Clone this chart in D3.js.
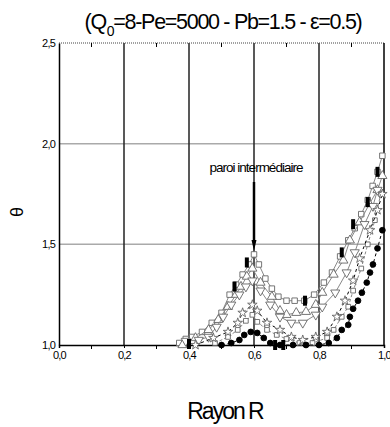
<!DOCTYPE html>
<html>
<head>
<meta charset="utf-8">
<script src="https://cdn.jsdelivr.net/npm/d3@7"></script>
<style>
  body { margin: 0; background: #fff; }
  svg { display: block; font-family: Arial, "Liberation Sans", sans-serif; }
</style>
</head>
<body>
<div id="chart"></div>
<script>
// data (R, theta)
const seriesSquare = [[0.37,1.01],[0.39,1.03],[0.41,1.04],[0.44,1.065],[0.47,1.11],[0.50,1.16],[0.525,1.25],[0.545,1.30],[0.565,1.35],[0.585,1.40],[0.60,1.45],[0.615,1.40],[0.635,1.33],[0.655,1.28],[0.675,1.24],[0.70,1.22],[0.725,1.22],[0.755,1.22],[0.785,1.25],[0.815,1.31],[0.84,1.36],[0.865,1.44],[0.89,1.52],[0.91,1.58],[0.93,1.65],[0.95,1.72],[0.965,1.79],[0.98,1.86],[0.995,1.94]];
const seriesUp = [[0.38,1.0],[0.42,1.035],[0.46,1.075],[0.49,1.125],[0.52,1.19],[0.545,1.25],[0.56,1.29],[0.578,1.34],[0.595,1.38],[0.62,1.31],[0.655,1.24],[0.68,1.17],[0.70,1.15],[0.73,1.16],[0.76,1.165],[0.79,1.20],[0.81,1.26],[0.845,1.35],[0.875,1.42],[0.895,1.52],[0.925,1.61],[0.955,1.70],[0.98,1.77],[0.995,1.84]];
const seriesDown = [[0.39,1.02],[0.43,1.025],[0.46,1.04],[0.485,1.09],[0.505,1.14],[0.53,1.20],[0.555,1.25],[0.575,1.29],[0.595,1.32],[0.62,1.27],[0.65,1.20],[0.68,1.14],[0.715,1.11],[0.75,1.11],[0.79,1.15],[0.81,1.19],[0.85,1.26],[0.885,1.36],[0.91,1.46],[0.94,1.60],[0.966,1.69],[0.98,1.77]];
const seriesStar = [[0.42,1.0],[0.475,1.035],[0.52,1.065],[0.55,1.11],[0.565,1.16],[0.595,1.20],[0.61,1.17],[0.64,1.11],[0.68,1.075],[0.715,1.04],[0.75,1.025],[0.79,1.04],[0.825,1.065],[0.855,1.14],[0.88,1.22],[0.905,1.32],[0.925,1.43],[0.957,1.57],[0.98,1.67],[0.995,1.75]];
const seriesSmallSq = [[0.48,1.01],[0.52,1.04],[0.55,1.075],[0.575,1.12],[0.595,1.15],[0.61,1.115],[0.64,1.075],[0.67,1.05],[0.70,1.03],[0.74,1.01],[0.78,1.01],[0.825,1.035],[0.845,1.075],[0.87,1.14],[0.89,1.19],[0.905,1.27],[0.93,1.38],[0.95,1.50],[0.972,1.62],[0.99,1.75]];
const seriesCircle = [[0.50,1.0],[0.53,1.01],[0.555,1.025],[0.57,1.05],[0.59,1.065],[0.61,1.06],[0.63,1.035],[0.65,1.01],[0.68,1.0],[0.72,1.0],[0.76,1.0],[0.80,1.0],[0.83,1.01],[0.855,1.035],[0.87,1.075],[0.89,1.10],[0.895,1.14],[0.905,1.18],[0.92,1.22],[0.932,1.26],[0.947,1.31],[0.957,1.36],[0.966,1.40],[0.98,1.48],[0.995,1.57]];
const blackMarks = [[0.40,1.005],[0.54,1.29],[0.578,1.41],[0.757,1.22],[0.665,1.0],[0.69,1.0],[0.87,1.46],[0.905,1.60],[0.95,1.71],[0.98,1.86]];

const xTicks = [0, 0.2, 0.4, 0.6, 0.8, 1.0];
const xMinor = [0.1, 0.3, 0.5, 0.7, 0.9];
const yTicks = [1.0, 1.5, 2.0, 2.5];

const width = 390, height = 427;
const fmt = d => d3.format('.1f')(d).replace('.', ',');

const svg = d3.select('#chart').append('svg')
  .attr('width', width)
  .attr('height', height);

const x = d3.scaleLinear().domain([0, 1]).range([59, 384]);
const y = d3.scaleLinear().domain([1, 2.5]).range([345, 43]);

// grid
svg.selectAll('.hgrid').data([1.5, 2.0]).enter().append('line')
  .attr('x1', x(0)).attr('x2', x(1))
  .attr('y1', d => y(d)).attr('y2', d => y(d))
  .attr('stroke', '#aaa').attr('stroke-width', 1.5);

svg.selectAll('.vgrid').data([0.2, 0.4, 0.6, 0.8]).enter().append('line')
  .attr('x1', d => x(d)).attr('x2', d => x(d))
  .attr('y1', y(2.5)).attr('y2', y(1))
  .attr('stroke', '#222').attr('stroke-width', 1.5);

// frame
svg.append('line').attr('x1', x(0)).attr('x2', x(1)).attr('y1', y(2.5)).attr('y2', y(2.5))
  .attr('stroke', '#444').attr('stroke-width', 1.2).attr('stroke-dasharray', '1,1');
svg.append('line').attr('x1', x(1)).attr('x2', x(1)).attr('y1', y(2.5)).attr('y2', y(1))
  .attr('stroke', '#000').attr('stroke-width', 1.5);

// axes
const xAxis = svg.append('g')
  .attr('transform', `translate(0,${y(1)})`)
  .call(d3.axisBottom(x).tickValues(xTicks).tickFormat(fmt).tickSize(3).tickPadding(3));
xAxis.select('.domain').attr('stroke', '#000').attr('stroke-width', 1.5);
xAxis.selectAll('text').attr('font-size', 11).attr('letter-spacing', -0.8).attr('fill', '#000');

svg.selectAll('.xminor').data(xMinor).enter().append('line')
  .attr('x1', d => x(d)).attr('x2', d => x(d))
  .attr('y1', y(1)).attr('y2', y(1) + 4)
  .attr('stroke', '#000');
svg.selectAll('.xminorTop').data(xMinor).enter().append('line')
  .attr('x1', d => x(d)).attr('x2', d => x(d))
  .attr('y1', y(2.5)).attr('y2', y(2.5) + 4)
  .attr('stroke', '#000');

const yAxis = svg.append('g')
  .attr('transform', `translate(${x(0)},0)`)
  .call(d3.axisLeft(y).tickValues(yTicks).tickFormat(fmt).tickSize(0).tickPadding(4));
yAxis.select('.domain').attr('stroke', '#000').attr('stroke-width', 1.5);
yAxis.selectAll('text').attr('font-size', 11).attr('letter-spacing', -0.8).attr('fill', '#000');

// series
const line = d3.line().x(d => x(d[0])).y(d => y(d[1]));

const series = [
  { data: seriesSquare, sym: d3.symbolSquare, size: 30, rot: 0, stroke: '#888', dash: null },
  { data: seriesUp, sym: d3.symbolTriangle, size: 36, rot: 0, stroke: '#888', dash: null },
  { data: seriesDown, sym: d3.symbolTriangle, size: 36, rot: 180, stroke: '#888', dash: null },
  { data: seriesSmallSq, sym: d3.symbolSquare, size: 22, rot: 0, stroke: '#888', dash: '3,2' },
  { data: seriesStar, sym: d3.symbolStar, size: 28, rot: 0, stroke: '#000', dash: '3,3' },
  { data: seriesCircle, sym: d3.symbolCircle, size: 26, rot: 0, stroke: '#000', dash: '3,3' }
];

series.forEach((s, i) => {
  svg.append('path')
    .datum(s.data)
    .attr('d', line)
    .attr('fill', 'none')
    .attr('stroke', s.stroke)
    .attr('stroke-width', 1)
    .attr('stroke-dasharray', s.dash);

  svg.selectAll('.m' + i).data(s.data).enter().append('path')
    .attr('d', d3.symbol().type(s.sym).size(s.size))
    .attr('transform', d => `translate(${x(d[0])},${y(d[1])}) rotate(${s.rot})`)
    .attr('fill', i === 5 ? '#000' : '#fff')
    .attr('stroke', i === 5 ? '#000' : '#666')
    .attr('stroke-width', 0.9);
});

svg.selectAll('.blk').data(blackMarks).enter().append('rect')
  .attr('x', d => x(d[0]) - 2)
  .attr('y', d => y(d[1]) - 5)
  .attr('width', 4)
  .attr('height', 10)
  .attr('fill', '#000');

// annotation
svg.append('text')
  .attr('x', 256).attr('y', 172)
  .attr('text-anchor', 'middle')
  .attr('font-size', 13.5).attr('letter-spacing', -1)
  .text('paroi intermédiaire');
svg.append('line')
  .attr('x1', x(0.6)).attr('x2', x(0.6))
  .attr('y1', 182).attr('y2', 242)
  .attr('stroke', '#000').attr('stroke-width', 2.5);
svg.append('path')
  .attr('d', `M${x(0.6) - 2.5},240 L${x(0.6) + 2.5},240 L${x(0.6)},251 Z`)
  .attr('fill', '#000');

// title
const title = svg.append('text')
  .attr('x', 223).attr('y', 29)
  .attr('text-anchor', 'middle')
  .attr('font-size', 21.5).attr('letter-spacing', -1.3);
title.append('tspan').text('(Q');
title.append('tspan').attr('font-size', 14).attr('dy', 7).attr('dx', 1).text('0');
title.append('tspan').attr('dy', -7).attr('dx', 0).text('=8-Pe=5000 - Pb=1.5 - ε=0.5)');

// axis labels
svg.append('text')
  .attr('x', 225).attr('y', 419)
  .attr('text-anchor', 'middle')
  .attr('font-size', 23).attr('letter-spacing', -2)
  .text('Rayon R');
svg.append('text')
  .attr('transform', 'translate(23,212) rotate(-90)')
  .attr('text-anchor', 'middle')
  .attr('font-size', 18)
  .text('θ');
</script>
</body>
</html>
